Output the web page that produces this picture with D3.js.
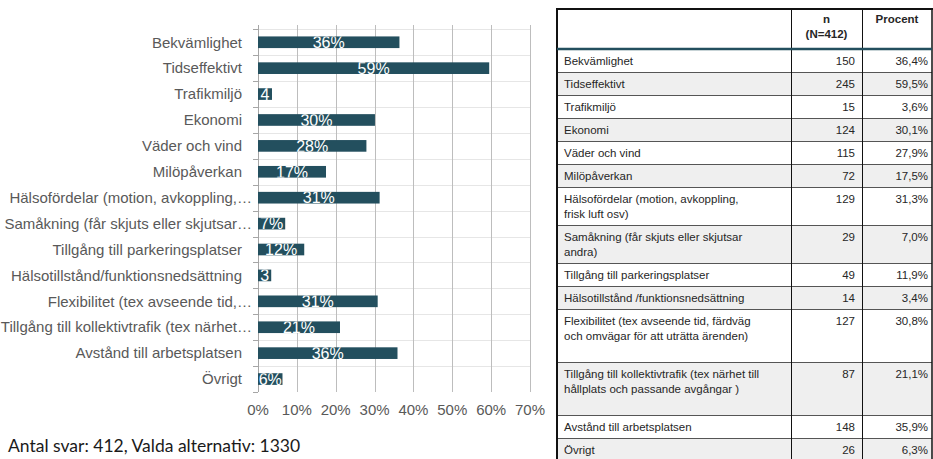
<!DOCTYPE html>
<head>
    <meta charset="utf-8">
    <style>
    body {
        margin: 0;
        background-color: white;
    }

    svg text {
        font-family: "Liberation Sans", Arial, sans-serif;
    }

    .cat-label {
        font-size: 15px;
        fill: #595959;
    }

    .tick-label {
        font-size: 15px;
        fill: #595959;
    }

    .bar-label {
        font-size: 16px;
        fill: white;
    }

    svg text.footer {
        font-family: Lato, sans-serif;
        font-size: 17.5px;
        fill: #1a1a1a;
    }

    .cell {
        font-size: 11.5px;
        fill: #262626;
    }

    .head {
        font-size: 11.5px;
        font-weight: bold;
        fill: #262626;
    }
    </style>
</head>

<body>
    <svg id="chart" width="933" height="459"></svg>
    <script src="https://d3js.org/d3.v7.min.js"></script>
    <script>
    // labels as they appear next to the bars
    var chartLabels = [
        "Bekvämlighet",
        "Tidseffektivt",
        "Trafikmiljö",
        "Ekonomi",
        "Väder och vind",
        "Milöpåverkan",
        "Hälsofördelar (motion, avkoppling,…",
        "Samåkning (får skjuts eller skjutsar…",
        "Tillgång till parkeringsplatser",
        "Hälsotillstånd/funktionsnedsättning",
        "Flexibilitet (tex avseende tid,…",
        "Tillgång till kollektivtrafik (tex närhet…",
        "Avstånd till arbetsplatsen",
        "Övrigt"
    ];

    // full labels in the table (\n = line break)
    var tableLabels = [
        "Bekvämlighet",
        "Tidseffektivt",
        "Trafikmiljö",
        "Ekonomi",
        "Väder och vind",
        "Milöpåverkan",
        "Hälsofördelar (motion, avkoppling,\nfrisk luft osv)",
        "Samåkning (får skjuts eller skjutsar\nandra)",
        "Tillgång till parkeringsplatser",
        "Hälsotillstånd /funktionsnedsättning",
        "Flexibilitet (tex avseende tid, färdväg\noch omvägar för att uträtta ärenden)\n",
        "Tillgång till kollektivtrafik (tex närhet till\nhållplats och passande avgångar )\n",
        "Avstånd till arbetsplatsen",
        "Övrigt"
    ];

    var counts = [150, 245, 15, 124, 115, 72, 129, 29, 49, 14, 127, 87, 148, 26];
    var percents = [36.4, 59.5, 3.6, 30.1, 27.9, 17.5, 31.3, 7.0, 11.9, 3.4, 30.8, 21.1, 35.9, 6.3];
    var xTicks = [0, 10, 20, 30, 40, 50, 60, 70];
    var totalN = 412;
    var footerText = "Antal svar: 412, Valda alternativ: 1330";

    var svg = d3.select("#chart");
    var barColor = "#234f5e";

    // ---------- bar chart ----------
    var plotTop = 29.3, plotBottom = 392;
    var x = d3.scaleLinear().domain([0, 70]).range([258, 530]);
    var y = d3.scaleBand()
        .domain(d3.range(chartLabels.length))
        .range([plotTop, plotBottom])
        .paddingInner(0.55)
        .paddingOuter(0.275);
    var step = y.step();

    // horizontal light lines at the category borders
    svg.append("g").selectAll("line")
        .data(d3.range(chartLabels.length))
        .enter().append("line")
        .attr("x1", x(0)).attr("x2", x(70))
        .attr("y1", function(d) { return Math.round(plotTop + d * step) + 0.5; })
        .attr("y2", function(d) { return Math.round(plotTop + d * step) + 0.5; })
        .attr("stroke", "#e6e6e6");

    // vertical grid
    svg.append("g").selectAll("line")
        .data(xTicks.slice(1))
        .enter().append("line")
        .attr("x1", function(d) { return Math.round(x(d)) + 0.5; })
        .attr("x2", function(d) { return Math.round(x(d)) + 0.5; })
        .attr("y1", 25).attr("y2", plotBottom)
        .attr("stroke", "#bdbdbd");

    // category axis with small ticks
    svg.append("line")
        .attr("x1", x(0) + 0.5).attr("x2", x(0) + 0.5)
        .attr("y1", 25).attr("y2", plotBottom)
        .attr("stroke", "#a6a6a6");
    svg.append("g").selectAll("line")
        .data(d3.range(chartLabels.length + 1))
        .enter().append("line")
        .attr("x1", x(0) - 5).attr("x2", x(0))
        .attr("y1", function(d) { return Math.round(plotTop + d * step) + 0.5; })
        .attr("y2", function(d) { return Math.round(plotTop + d * step) + 0.5; })
        .attr("stroke", "#a6a6a6");

    svg.append("g").selectAll("text")
        .data(xTicks)
        .enter().append("text")
        .attr("class", "tick-label")
        .attr("x", function(d) { return x(d); })
        .attr("y", 415)
        .attr("text-anchor", "middle")
        .text(function(d) { return d + "%"; });

    svg.append("g").selectAll("text")
        .data(chartLabels)
        .enter().append("text")
        .attr("class", "cat-label")
        .attr("x", function(d) { return d.endsWith("…") ? x(0) - 6 : x(0) - 16; })
        .attr("y", function(d, i) { return y(i) + y.bandwidth() / 2; })
        .attr("dy", "0.35em")
        .attr("text-anchor", "end")
        .text(function(d) { return d; });

    var defs = svg.append("defs");
    defs.selectAll("clipPath")
        .data(percents)
        .enter().append("clipPath")
        .attr("id", function(d, i) { return "clip" + i; })
        .append("rect")
        .attr("x", x(0))
        .attr("y", function(d, i) { return y(i); })
        .attr("width", function(d) { return x(d) - x(0); })
        .attr("height", y.bandwidth());

    var bars = svg.append("g").selectAll("g")
        .data(percents)
        .enter().append("g");

    bars.append("rect")
        .attr("x", x(0))
        .attr("y", function(d, i) { return y(i); })
        .attr("width", function(d) { return x(d) - x(0); })
        .attr("height", y.bandwidth())
        .attr("fill", barColor);

    bars.append("text")
        .attr("class", "bar-label")
        .attr("clip-path", function(d, i) { return "url(#clip" + i + ")"; })
        .attr("x", function(d) { return (x(0) + x(d)) / 2; })
        .attr("y", function(d, i) { return y(i) + y.bandwidth() / 2; })
        .attr("dy", "0.36em")
        .attr("text-anchor", "middle")
        .text(function(d, i) { return Math.round(counts[i] / totalN * 100) + "%"; })
        .each(function(d) {
            // drop characters that do not fit in a short bar
            var el = d3.select(this);
            var w = x(d) - x(0);
            var s = el.text();
            while (s.length > 1 && this.getComputedTextLength() > w + 2) {
                s = s.slice(0, -1);
                el.text(s);
            }
        });

    svg.append("text")
        .attr("class", "footer")
        .attr("x", 8)
        .attr("y", 452)
        .text(footerText);

    // ---------- table ----------
    var tx0 = 557, tx1 = 791, tx2 = 862, tx3 = 932;
    var headTop = 9, headBottom = 49;
    var lineH = 15, padTop = 4;
    var fmt = d3.format(".1f");

    var rows = [];
    var cy = headBottom;
    tableLabels.forEach(function(lab, i) {
        var lines = lab.split("\n");
        var h = lines.length * lineH + 2 * padTop;
        rows.push({ lines: lines, n: counts[i], p: percents[i], y: cy, h: h, i: i });
        cy += h;
    });

    var tg = svg.append("g");
    tg.selectAll("rect")
        .data(rows)
        .enter().append("rect")
        .attr("x", tx0).attr("y", function(d) { return d.y; })
        .attr("width", tx3 - tx0).attr("height", function(d) { return d.h; })
        .attr("fill", function(d) { return d.i % 2 ? "#efefef" : "white"; });

    tg.selectAll("line.rowsep")
        .data(rows.slice(1))
        .enter().append("line")
        .attr("x1", tx0).attr("x2", tx3)
        .attr("y1", function(d) { return d.y + 0.5; })
        .attr("y2", function(d) { return d.y + 0.5; })
        .attr("stroke", "#555");

    [tx1, tx2].forEach(function(xx) {
        tg.append("line")
            .attr("x1", xx + 0.5).attr("x2", xx + 0.5)
            .attr("y1", headTop).attr("y2", 459)
            .attr("stroke", "#111");
    });
    tg.append("line").attr("x1", tx3).attr("x2", tx3)
        .attr("y1", headTop).attr("y2", 459).attr("stroke", "#111").attr("stroke-width", 1.5);
    tg.append("line").attr("x1", tx0).attr("x2", tx0)
        .attr("y1", headTop - 1).attr("y2", 459).attr("stroke", "#111").attr("stroke-width", 2);
    tg.append("line").attr("x1", tx0 - 1).attr("x2", tx3 + 1)
        .attr("y1", headTop).attr("y2", headTop).attr("stroke", "#111").attr("stroke-width", 2);
    tg.append("line").attr("x1", tx0).attr("x2", tx3)
        .attr("y1", headBottom).attr("y2", headBottom).attr("stroke", barColor).attr("stroke-width", 2.5);

    tg.append("text").attr("class", "head")
        .attr("x", (tx1 + tx2) / 2).attr("y", 23).attr("text-anchor", "middle").text("n");
    tg.append("text").attr("class", "head")
        .attr("x", (tx1 + tx2) / 2).attr("y", 38).attr("text-anchor", "middle").text("(N=" + totalN + ")");
    tg.append("text").attr("class", "head")
        .attr("x", (tx2 + tx3) / 2).attr("y", 23).attr("text-anchor", "middle").text("Procent");

    var rg = tg.selectAll("g.row")
        .data(rows)
        .enter().append("g");

    rg.each(function(d) {
        var g = d3.select(this);
        d.lines.forEach(function(t, k) {
            g.append("text").attr("class", "cell")
                .attr("x", tx0 + 7)
                .attr("y", d.y + padTop + lineH * k + 11.5)
                .text(t);
        });
        g.append("text").attr("class", "cell")
            .attr("x", tx2 - 7)
            .attr("y", d.y + padTop + 11.5)
            .attr("text-anchor", "end")
            .text(d.n);
        g.append("text").attr("class", "cell")
            .attr("x", tx3 - 4)
            .attr("y", d.y + padTop + 11.5)
            .attr("text-anchor", "end")
            .text(fmt(d.p).replace(".", ",") + "%");
    });
    </script>
</body>
